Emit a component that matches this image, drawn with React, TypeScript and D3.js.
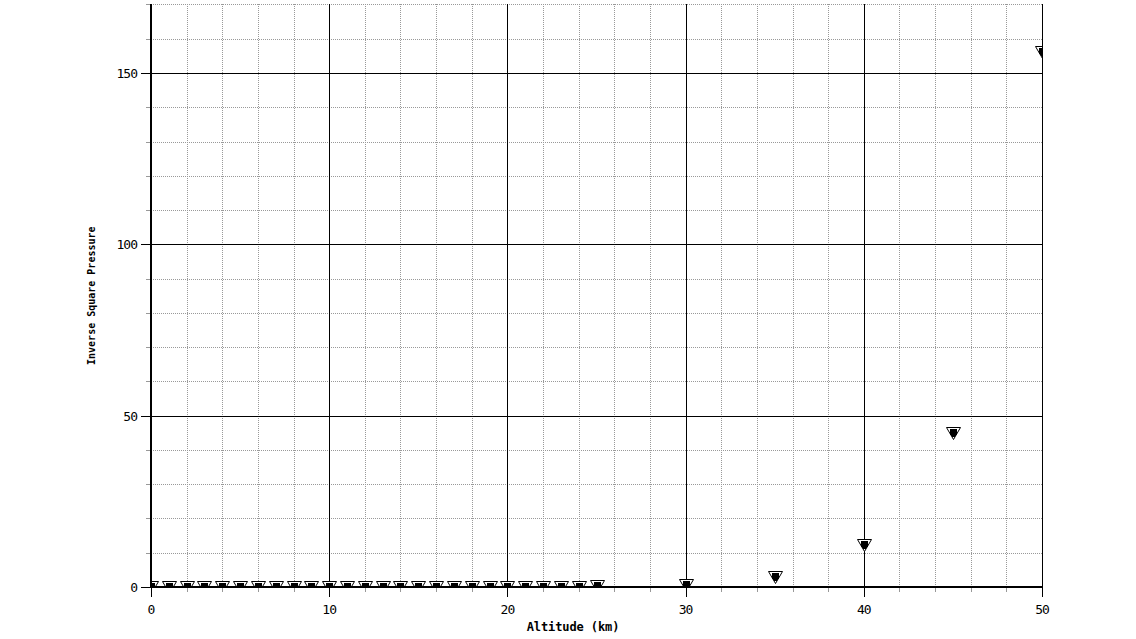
import * as d3 from "d3";

// altitude in km, value = inverse square pressure (scaled)
const altitudes = [
  0, 1, 2, 3, 4, 5, 6, 7, 8, 9, 10, 11, 12, 13, 14, 15, 16, 17, 18, 19, 20,
  21, 22, 23, 24, 25, 30, 35, 40, 45, 50,
];
const inverseSquarePressure = [
  0.0001, 0.00013, 0.00016, 0.00021, 0.00027, 0.00035, 0.00046, 0.00061,
  0.00081, 0.0011, 0.0015, 0.002, 0.0027, 0.0037, 0.0051, 0.0069, 0.0095,
  0.013, 0.018, 0.025, 0.034, 0.046, 0.063, 0.087, 0.12, 0.16, 0.6, 3.0,
  12.2, 45, 156,
];
const xMajorTicks = [0, 10, 20, 30, 40, 50];
const yMajorTicks = [0, 50, 100, 150];

const W = 1136;
const H = 639;
const left = 151;
const right = 1042;
const bottom = 587;
const mono = "'DejaVu Sans Mono', monospace";

export default function App() {
  const x = d3.scaleLinear().domain([0, 50]).range([left, right]);
  const y = d3.scaleLinear().domain([0, 170]).range([bottom, bottom - 170 * 3.4267]);
  const top = y(170);

  const xMinor = d3.range(0, 51, 2).filter((v) => v % 10 !== 0);
  const yMinor = d3.range(0, 171, 10).filter((v) => v % 50 !== 0);

  const markerOuter = "M-7,-6L7,-6L0,6Z";
  const markerInner = "M-3.5,-4.5L3.5,-4.5L3.5,0.5L1.5,3.5L-1.5,3.5L-3.5,0.5Z";

  return (
    <svg
      width={W}
      height={H}
      style={{ position: "absolute", left: 0, top: 0, background: "#fff" }}
    >
      <defs>
        <clipPath id="plot">
          <rect x={left} y={top} width={right - left} height={bottom - top} />
        </clipPath>
      </defs>

      {/* minor grid */}
      <g stroke="#999" strokeWidth={1} strokeDasharray="1,1" shapeRendering="crispEdges">
        {xMinor.map((v) => (
          <line key={"gx" + v} x1={Math.round(x(v)) + 0.5} x2={Math.round(x(v)) + 0.5} y1={top} y2={bottom} />
        ))}
        {yMinor.map((v) => (
          <line key={"gy" + v} x1={left} x2={right} y1={Math.round(y(v)) + 0.5} y2={Math.round(y(v)) + 0.5} />
        ))}
      </g>

      {/* major grid */}
      <g stroke="#000" strokeWidth={1} shapeRendering="crispEdges">
        {xMajorTicks.slice(1).map((v) => (
          <line key={"Gx" + v} x1={Math.round(x(v)) + 0.5} x2={Math.round(x(v)) + 0.5} y1={top} y2={bottom} />
        ))}
        {yMajorTicks.slice(1).map((v) => (
          <line key={"Gy" + v} x1={left} x2={right} y1={Math.round(y(v)) + 0.5} y2={Math.round(y(v)) + 0.5} />
        ))}
      </g>

      {/* markers */}
      <g clipPath="url(#plot)">
        {altitudes.map((a, i) => (
          <g key={a} transform={`translate(${Math.round(x(a)) + 0.5},${Math.round(y(inverseSquarePressure[i])) + 0.5})`}>
            <path d={markerOuter} fill="#fff" stroke="#000" strokeWidth={1} />
            <path d={markerInner} fill="#000" shapeRendering="crispEdges" />
          </g>
        ))}
      </g>

      {/* minor ticks */}
      <g stroke="#999" strokeWidth={1} shapeRendering="crispEdges">
        {d3.range(0, 51, 2).map((v) => (
          <line key={"tx" + v} x1={Math.round(x(v)) + 0.5} x2={Math.round(x(v)) + 0.5} y1={bottom} y2={bottom + 5} />
        ))}
        {yMinor.map((v) => (
          <line key={"ty" + v} x1={left - 5} x2={left} y1={Math.round(y(v)) + 0.5} y2={Math.round(y(v)) + 0.5} />
        ))}
      </g>

      {/* major ticks */}
      <g stroke="#000" strokeWidth={1} shapeRendering="crispEdges">
        {xMajorTicks.map((v) => (
          <line key={"Tx" + v} x1={Math.round(x(v)) + 0.5} x2={Math.round(x(v)) + 0.5} y1={bottom} y2={bottom + 10} />
        ))}
        {yMajorTicks.map((v) => (
          <line key={"Ty" + v} x1={left - 10} x2={left} y1={Math.round(y(v)) + 0.5} y2={Math.round(y(v)) + 0.5} />
        ))}
      </g>

      {/* axis lines */}
      <g stroke="#000" strokeWidth={2} shapeRendering="crispEdges">
        <line x1={left} x2={left} y1={top} y2={bottom + 1} />
        <line x1={left - 1} x2={right} y1={bottom} y2={bottom} />
      </g>

      {/* tick labels */}
      <g fontFamily={mono} fontSize={13} letterSpacing={-1} fill="#000">
        {xMajorTicks.map((v) => (
          <text key={"lx" + v} x={x(v)} y={614} textAnchor="middle">
            {v}
          </text>
        ))}
        {yMajorTicks.map((v) => (
          <text key={"ly" + v} x={137} y={y(v) + 5} textAnchor="end">
            {v}
          </text>
        ))}
      </g>

      {/* axis titles */}
      <text
        x={573}
        y={631}
        textAnchor="middle"
        fontFamily={mono}
        fontWeight="bold"
        fontSize={12}
        letterSpacing={-0.1}
      >
        Altitude (km)
      </text>
      <text
        transform={`translate(95,${(top + bottom) / 2}) rotate(-90)`}
        textAnchor="middle"
        fontFamily={mono}
        fontWeight="bold"
        fontSize={10}
      >
        Inverse Square Pressure
      </text>
    </svg>
  );
}
